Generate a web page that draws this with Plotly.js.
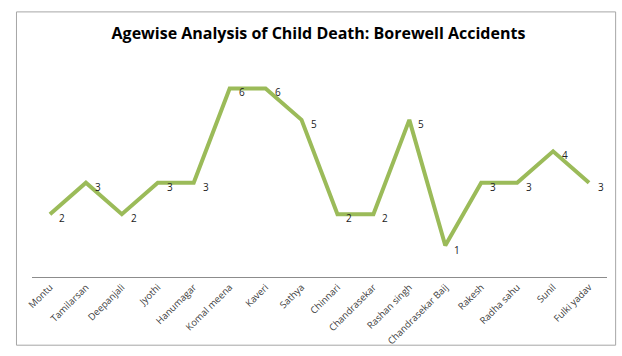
<!DOCTYPE html>
<html>
<head>
<meta charset="utf-8">
<script src="https://cdn.plot.ly/plotly-3.0.1.min.js"></script>
<style>html,body{margin:0;padding:0;background:#fff;}#chart{width:622px;height:356px;}</style>
</head>
<body>
<div id="chart"></div>
<script>
const names = ["Montu","Tamilarsan","Deepanjali","Jyothi","Hanumagar","Komal meena","Kaveri","Sathya","Chinnari","Chandrasekar","Rashan singh","Chandrasekar Baij","Rakesh","Radha sahu","Sunil","Fulki yadav"];
const deaths = [2,3,2,3,3,6,6,5,2,2,5,1,3,3,4,3];
const labels = deaths.map(String);

const trace = {
  x: names,
  y: deaths,
  type: 'scatter',
  mode: 'lines',
  line: {color: '#9BBB59', width: 4},
  hoverinfo: 'x+y'
};

const annotations = names.map((n, i) => ({
  x: n, y: deaths[i], xref: 'x', yref: 'y',
  text: labels[i], showarrow: false,
  xshift: 12, yshift: -4,
  font: {family: 'Open Sans, Liberation Sans, sans-serif', size: 10, color: '#222'}
}));

const layout = {
  width: 622, height: 356,
  margin: {l: 32, r: 15, t: 57, b: 79},
  paper_bgcolor: '#ffffff',
  plot_bgcolor: '#ffffff',
  showlegend: false,
  title: {
    text: '<b>Agewise Analysis of Child Death: Borewell Accidents</b>',
    font: {family: 'Open Sans, Liberation Sans, sans-serif', size: 16, color: '#000'},
    x: 0.512, xanchor: 'center', y: 0.905, yanchor: 'middle'
  },
  xaxis: {
    type: 'category',
    tickangle: -45,
    tickfont: {family: 'Open Sans, Liberation Sans, sans-serif', size: 9.5, color: '#404040'},
    showline: true, linecolor: '#8c8c8c', linewidth: 1,
    showgrid: false, zeroline: false, ticks: '',
    range: [-0.5, names.length - 0.5]
  },
  yaxis: {
    range: [0, 7],
    visible: false,
    showgrid: false, zeroline: false
  },
  annotations: annotations,
  shapes: [
    {type: 'rect', xref: 'paper', yref: 'paper', x0: -0.027, x1: 1.015, y0: -0.31, y1: 1.205,
     line: {color: '#a6a6a6', width: 1}, fillcolor: 'rgba(0,0,0,0)'}
  ]
};

Plotly.newPlot('chart', [trace], layout, {displayModeBar: false, staticPlot: true});
</script>
</body>
</html>
